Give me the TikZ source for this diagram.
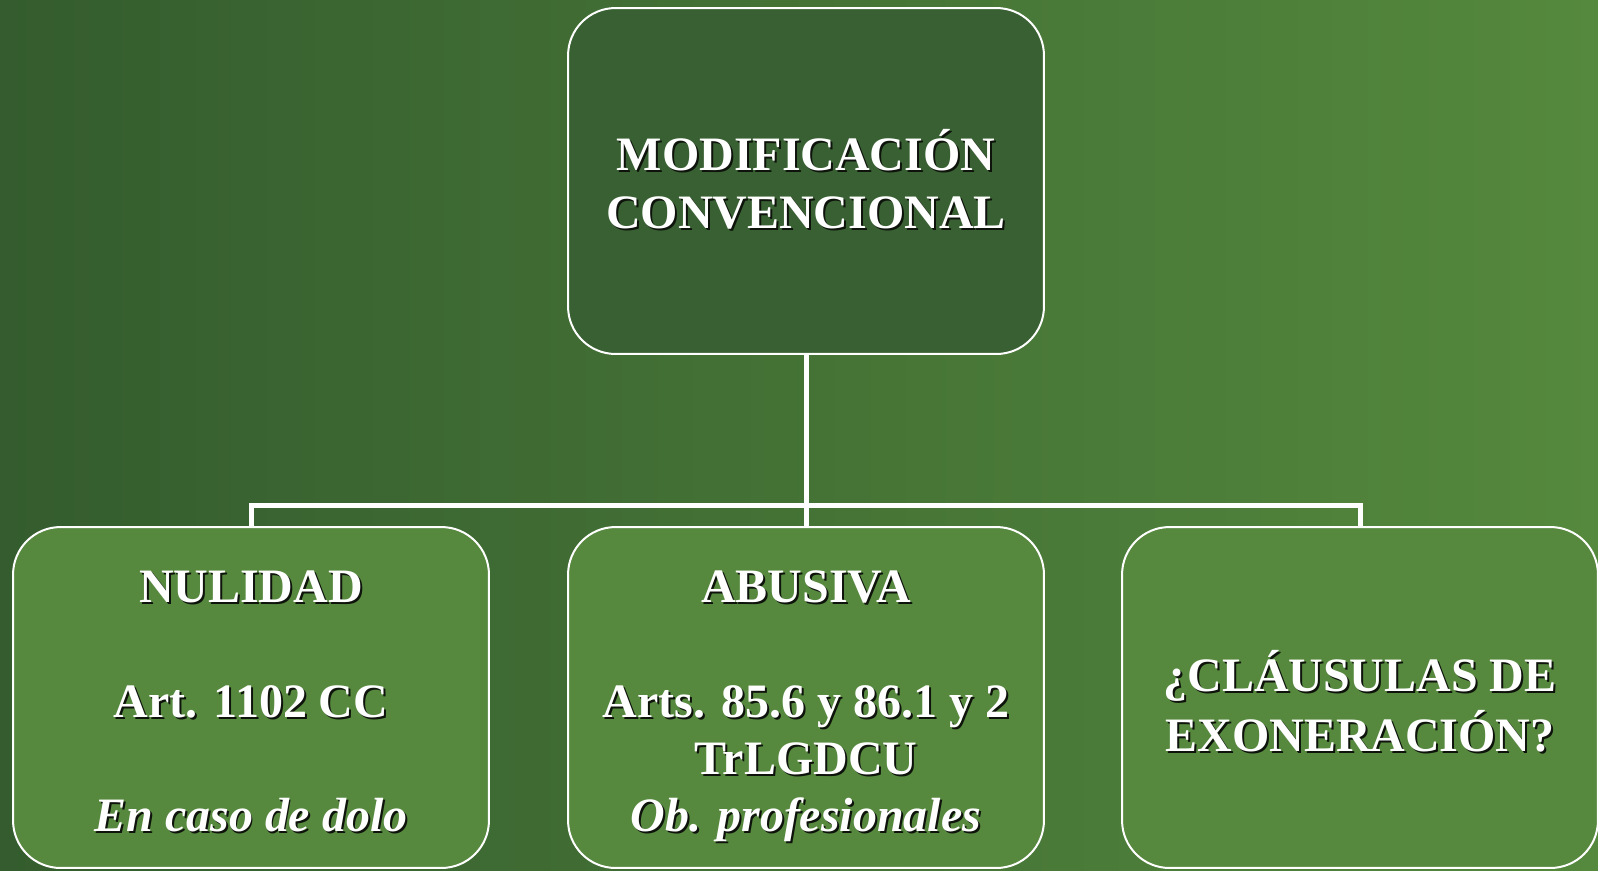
\documentclass[tikz,border=0pt]{standalone}
\usepackage{fontspec}
\setmainfont{Liberation Serif}

\definecolor{bgLeft}{HTML}{345C2E}
\definecolor{bgRight}{HTML}{55893D}
\definecolor{topFill}{HTML}{386032}
\definecolor{boxFill}{HTML}{56883E}
\definecolor{shadowCol}{HTML}{0E140C}

% one line of white text with a dark drop shadow
\newcommand{\sh}[1]{\strut\rlap{\kern0.04cm\raisebox{-0.04cm}{\color{shadowCol}#1}}{#1}}

\begin{document}
\begin{tikzpicture}[x=0.02cm, y=-0.02cm,
        box/.style={draw=white, line width=0.04cm, rounded corners=0.95cm, minimum width=9.52cm},
        boxtext/.style={text=white, align=center, inner sep=0pt, font=\fontsize{27.3}{32.7}\selectfont\bfseries},
        conn/.style={draw=white, line width=0.1cm}]

        % Background
        \shade[left color=bgLeft, right color=bgRight] (0,0) rectangle (1598,870);
        \useasboundingbox (0,0) rectangle (1598,870);

        % Top box
        \node[box, fill=topFill, minimum height=6.92cm] (modif) at (806,181) {};
        \node[boxtext, yshift=-0.13cm] (modifText) at (modif.center)
            {\sh{MODIFICACIÓN}\\\sh{CONVENCIONAL}};

        % Bottom boxes
        \node[box, fill=boxFill, minimum height=6.82cm] (nulidad) at (251,697.5) {};
        \node[box, fill=boxFill, minimum height=6.82cm] (abusiva) at (806,697.5) {};
        \node[box, fill=boxFill, minimum height=6.82cm] (clausulas) at (1360,697.5) {};

        \node[boxtext, yshift=-0.16cm] (nulidadText) at (nulidad.center)
            {\sh{NULIDAD}\\\sh{}\\\sh{Art. 1102 CC}\\\sh{}\\\sh{\itshape En caso de dolo}};
        \node[boxtext, yshift=-0.16cm] (abusivaText) at (abusiva.center)
            {\sh{ABUSIVA}\\\sh{}\\\sh{Arts. 85.6 y 86.1 y 2}\\\sh{TrLGDCU}\\\sh{\itshape Ob. profesionales}};
        \node[boxtext, yshift=-0.24cm] (clausulasText) at (clausulas.center)
            {\sh{¿CLÁUSULAS DE}\\\sh{EXONERACIÓN?}};

        % Connectors
        \coordinate (bus) at (806,505);
        \draw[conn] (modif.south) -- (bus);
        \draw[conn] (nulidad.north) |- (bus) -| (clausulas.north);
        \draw[conn] (abusiva.north) -- (bus);
    \end{tikzpicture}
\end{document}
